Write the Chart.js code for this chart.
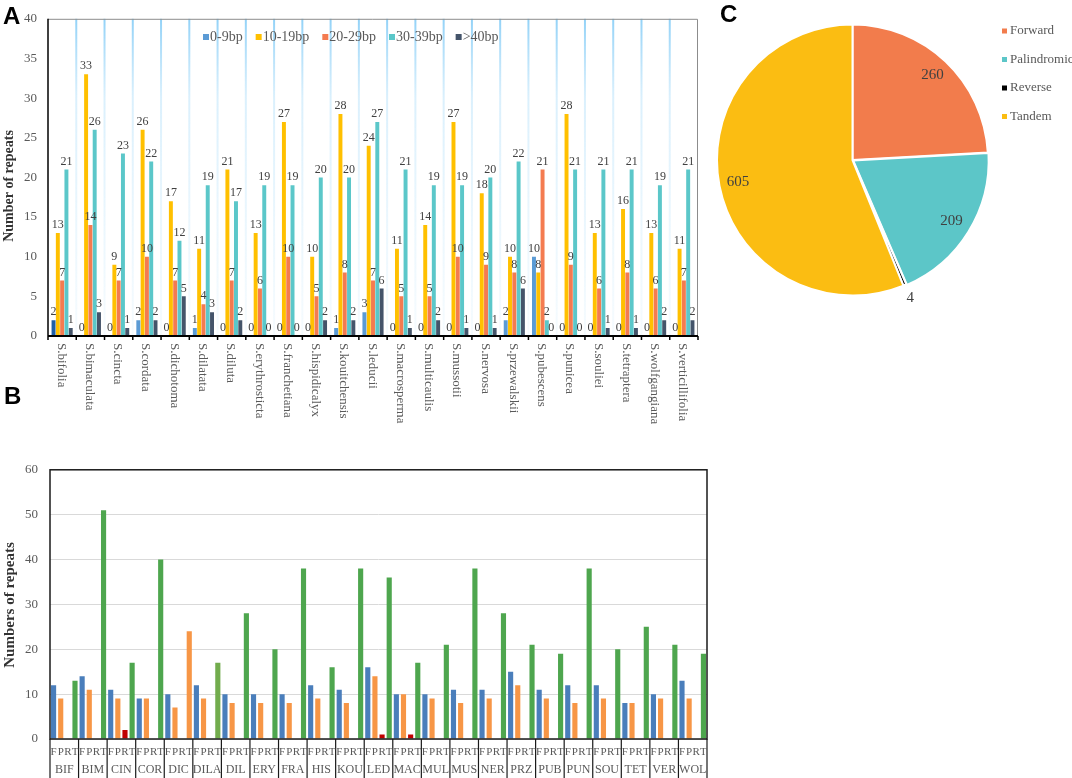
<!DOCTYPE html>
<html><head><meta charset="utf-8">
<script src="https://cdn.jsdelivr.net/npm/chart.js@4.4.0/dist/chart.umd.min.js"></script>
<style>
html,body{margin:0;padding:0;background:#fff;width:1072px;height:778px;overflow:hidden;position:relative;}
canvas{position:absolute;display:block;}
.lab{position:absolute;font-family:"Liberation Sans",Arial,sans-serif;font-weight:bold;font-size:24px;color:#000;line-height:1;}
</style></head><body>
<canvas id="cA" width="700" height="440" style="left:0;top:0;"></canvas>
<canvas id="cB" width="720" height="328" style="left:0;top:450px;"></canvas>
<canvas id="cC" width="372" height="330" style="left:700px;top:0;"></canvas>
<div class="lab" style="left:3px;top:4px;">A</div>
<div class="lab" style="left:4px;top:384px;">B</div>
<div class="lab" style="left:720px;top:2px;">C</div>
<script>
// ---------- Panel A data ----------
const speciesA = ["S.bifolia","S.bimaculata","S.cincta","S.cordata","S.dichotoma","S.dilatata","S.diluta","S.erythrosticta","S.franchetiana","S.hispidicalyx","S.kouitchensis","S.leducii","S.macrosperma","S.multicaulis","S.mussotii","S.nervosa","S.przewalskii","S.pubescens","S.punicea","S.souliei","S.tetraptera","S.wolfgangiana","S.verticillifolia"];
const seriesNamesA = ["0-9bp","10-19bp","20-29bp","30-39bp",">40bp"];
const len0to9   = [2,0,0,2,0,1,0,0,0,0,1,3,0,0,0,0,2,10,0,0,0,0,0];
const len10to19 = [13,33,9,26,17,11,21,13,27,10,28,24,11,14,27,18,10,8,28,13,16,13,11];
const len20to29 = [7,14,7,10,7,4,7,6,10,5,8,7,5,5,10,9,8,21,9,6,8,6,7];
const len30to39 = [21,26,23,22,12,19,17,19,19,20,20,27,21,19,19,20,22,2,21,21,21,19,21];
const len40plus = [1,3,1,2,5,3,2,0,0,2,2,6,1,2,1,1,6,0,0,1,1,2,2];
const yTicksA = [0,5,10,15,20,25,30,35,40];

// ---------- Panel B data ----------
const groupsB = ["BIF","BIM","CIN","COR","DIC","DILA","DIL","ERY","FRA","HIS","KOU","LED","MAC","MUL","MUS","NER","PRZ","PUB","PUN","SOU","TET","VER","WOL"];
const typeLettersB = ["F","P","R","T"];
const forwardB     = [12,14,11,9,10,12,10,10,10,12,11,16,10,10,11,11,15,11,12,12,8,10,13];
const palindromicB = [9,11,9,9,7,9,8,8,8,9,8,14,10,9,8,9,12,9,8,9,8,9,9];
const reverseB     = [0,0,2,0,0,0,0,0,0,0,0,1,1,0,0,0,0,0,0,0,0,0,0];
const tandemB      = [13,51,17,40,24,17,28,20,38,16,38,36,17,21,38,28,21,19,38,20,25,21,19];
const yTicksB = [0,10,20,30,40,50,60];

// ---------- Panel C data ----------
const repeatTypesC = ["Forward","Palindromic","Reverse","Tandem"];
const repeatCountsC = [260,209,4,605];

const serif = '"Liberation Serif","Times New Roman",serif';
const gray = '#595959';

// ================= PANEL A =================
const colA = ['#5B9BD5','#FFC000','#F47B50','#5BC7C9','#44546A'];
const blueA = len0to9.map((v,i)=> i===0 ? '#1F5FA6' : '#5B9BD5');

const plugA = {
  id:'plugA',
  beforeDatasetsDraw(chart){
    const {ctx, chartArea:ca, scales:{x}} = chart;
    const n = chart.data.labels.length;
    ctx.save();
    for(let k=1;k<n;k++){
      const bx = (x.getPixelForValue(k-1)+x.getPixelForValue(k))/2;
      const g = ctx.createLinearGradient(0,ca.top,0,ca.bottom);
      g.addColorStop(0,'rgba(110,195,245,0.75)');
      g.addColorStop(0.25,'rgba(150,212,248,0.35)');
      g.addColorStop(1,'rgba(190,228,250,0.15)');
      ctx.fillStyle = g;
      ctx.fillRect(bx-1, ca.top, 2, ca.bottom-ca.top);
    }
    ctx.restore();
  },
  afterDatasetsDraw(chart){
    const {ctx, chartArea:ca, scales:{x}} = chart;
    ctx.save();
    // value labels
    ctx.font = '12px '+serif;
    ctx.fillStyle = '#404040';
    ctx.textAlign = 'center';
    ctx.textBaseline = 'bottom';
    chart.data.datasets.forEach((ds,i)=>{
      const meta = chart.getDatasetMeta(i);
      meta.data.forEach((bar,j)=>{ ctx.fillText(String(ds.data[j]), bar.x, bar.y-2); });
    });
    // frame
    ctx.strokeStyle = '#8c8c8c'; ctx.lineWidth = 1;
    ctx.beginPath();
    ctx.moveTo(ca.left, ca.top+0.5); ctx.lineTo(ca.right-0.5, ca.top+0.5); ctx.lineTo(ca.right-0.5, ca.bottom);
    ctx.stroke();
    ctx.strokeStyle = '#000'; ctx.lineWidth = 1.5;
    ctx.beginPath(); ctx.moveTo(ca.left, ca.top); ctx.lineTo(ca.left, ca.bottom); ctx.stroke();
    ctx.lineWidth = 2;
    ctx.beginPath(); ctx.moveTo(ca.left, ca.bottom); ctx.lineTo(ca.right, ca.bottom); ctx.stroke();
    const n = chart.data.labels.length;
    ctx.lineWidth = 1.5;
    for(let k=0;k<=n;k++){
      let bx;
      if(k===0) bx = ca.left; else if(k===n) bx = ca.right; else bx = (x.getPixelForValue(k-1)+x.getPixelForValue(k))/2;
      ctx.beginPath(); ctx.moveTo(bx, ca.bottom); ctx.lineTo(bx, ca.bottom+4); ctx.stroke();
    }
    // rotated category labels
    ctx.font = '13px '+serif;
    ctx.fillStyle = gray;
    ctx.textAlign = 'left';
    ctx.textBaseline = 'middle';
    chart.data.labels.forEach((lab,j)=>{
      ctx.save();
      ctx.translate(x.getPixelForValue(j)-1, ca.bottom+7);
      ctx.rotate(Math.PI/2);
      ctx.fillText(lab, 0, 0);
      ctx.restore();
    });
    // y title
    ctx.save();
    ctx.font = 'bold 14px '+serif;
    ctx.fillStyle = '#333';
    ctx.textAlign = 'center'; ctx.textBaseline = 'middle';
    ctx.translate(9, 186); ctx.rotate(-Math.PI/2);
    ctx.fillText('Number of repeats', 0, 0);
    ctx.restore();
    // legend inside
    ctx.font = '14px '+serif;
    ctx.textAlign = 'left'; ctx.textBaseline = 'middle';
    let lx = 203; const ly = 37;
    chart.data.datasets.forEach((ds,i)=>{
      ctx.fillStyle = colA[i];
      ctx.fillRect(lx, ly-3, 6, 6);
      ctx.fillStyle = gray;
      ctx.fillText(ds.label, lx+7, ly);
      lx += 7 + ctx.measureText(ds.label).width + 13;
    });
    ctx.restore();
  }
};

new Chart(document.getElementById('cA'), {
  type:'bar',
  data:{
    labels: speciesA,
    datasets:[
      {label:seriesNamesA[0], data:len0to9,   backgroundColor:blueA},
      {label:seriesNamesA[1], data:len10to19, backgroundColor:colA[1]},
      {label:seriesNamesA[2], data:len20to29, backgroundColor:colA[2]},
      {label:seriesNamesA[3], data:len30to39, backgroundColor:colA[3]},
      {label:seriesNamesA[4], data:len40plus, backgroundColor:colA[4]}
    ]
  },
  options:{
    responsive:false, animation:false,
    layout:{padding:{left:0,top:17,right:2,bottom:0}},
    datasets:{bar:{categoryPercentage:0.76, barPercentage:0.92}},
    plugins:{legend:{display:false}, tooltip:{enabled:false}},
    scales:{
      x:{grid:{display:false,drawTicks:false}, border:{display:false}, ticks:{display:false},
         afterFit(s){ s.height = 104; }},
      y:{min:0, max:40, grid:{display:false,drawTicks:false}, border:{display:false},
         afterBuildTicks(s){ s.ticks = yTicksA.map(v=>({value:v})); },
         ticks:{padding:11, color:gray, font:{family:serif, size:13}},
         afterFit(s){ s.width = 48; }}
    }
  },
  plugins:[plugA]
});

// ================= PANEL B =================
const tandemColors = tandemB.map((v,i)=> i===4 ? '#F79646' : (i===5 ? '#72AC4D' : '#4EA64E'));
const plugB = {
  id:'plugB',
  afterDraw(chart){
    const {ctx, chartArea:ca, scales:{x}} = chart;
    const H = chart.height;
    ctx.save();
    ctx.strokeStyle = '#1a1a1a'; ctx.lineWidth = 1.5;
    ctx.strokeRect(ca.left, ca.top, ca.right-ca.left, ca.bottom-ca.top);
    const n = chart.data.labels.length;
    ctx.lineWidth = 1.2;
    for(let k=0;k<=n;k++){
      let bx;
      if(k===0) bx = ca.left; else if(k===n) bx = ca.right; else bx = (x.getPixelForValue(k-1)+x.getPixelForValue(k))/2;
      ctx.beginPath(); ctx.moveTo(bx, ca.bottom); ctx.lineTo(bx, H); ctx.stroke();
    }
    // type letters
    ctx.font = '11px '+serif;
    ctx.fillStyle = gray;
    ctx.textAlign = 'center'; ctx.textBaseline = 'middle';
    chart.data.datasets.forEach((ds,i)=>{
      const meta = chart.getDatasetMeta(i);
      meta.data.forEach(bar=>{ ctx.fillText(typeLettersB[i], bar.x, ca.bottom+13); });
    });
    // group names
    ctx.font = '12px '+serif;
    chart.data.labels.forEach((lab,j)=>{ ctx.fillText(lab, x.getPixelForValue(j), ca.bottom+31); });
    // y title
    ctx.save();
    ctx.font = 'bold 15px '+serif;
    ctx.fillStyle = '#333';
    ctx.translate(10, 155); ctx.rotate(-Math.PI/2);
    ctx.fillText('Numbers of repeats', 0, 0);
    ctx.restore();
    ctx.restore();
  }
};

new Chart(document.getElementById('cB'), {
  type:'bar',
  data:{
    labels: groupsB,
    datasets:[
      {label:'F', data:forwardB, backgroundColor:'#4A7EBB'},
      {label:'P', data:palindromicB, backgroundColor:'#F79646'},
      {label:'R', data:reverseB, backgroundColor:'#C00000'},
      {label:'T', data:tandemB, backgroundColor:tandemColors}
    ]
  },
  options:{
    responsive:false, animation:false,
    layout:{padding:{left:0,top:12,right:13,bottom:0}},
    datasets:{bar:{categoryPercentage:1.0, barPercentage:0.72}},
    plugins:{legend:{display:false}, tooltip:{enabled:false}},
    scales:{
      x:{grid:{display:false,drawTicks:false}, border:{display:false}, ticks:{display:false},
         afterFit(s){ s.height = 39; }},
      y:{min:0, max:60, grid:{color:'#D9D9D9', lineWidth:1, drawTicks:false}, border:{display:false},
         afterBuildTicks(s){ s.ticks = yTicksB.map(v=>({value:v})); },
         ticks:{padding:12, color:gray, font:{family:serif, size:13}},
         afterFit(s){ s.width = 50; }}
    }
  },
  plugins:[plugB]
});

// ================= PANEL C =================
const colC = ['#F27C4C','#5CC6C8','#000000','#FBBD12'];
const plugC = {
  id:'plugC',
  afterDatasetsDraw(chart){
    const {ctx} = chart;
    const meta = chart.getDatasetMeta(0);
    const ds = chart.data.datasets[0];
    const total = ds.data.reduce((a,b)=>a+b,0);
    ctx.save();
    ctx.font = '15px '+serif;
    ctx.fillStyle = '#404040';
    ctx.textAlign = 'center'; ctx.textBaseline = 'middle';
    meta.data.forEach((arc,i)=>{
      const p = arc.getProps(['x','y','startAngle','endAngle','outerRadius']);
      const mid = (p.startAngle+p.endAngle)/2;
      const frac = ds.data[i]/total;
      const r = frac < 0.02 ? p.outerRadius+14 : p.outerRadius*0.86;
      ctx.fillText(String(ds.data[i]), p.x + Math.cos(mid)*r, p.y + Math.sin(mid)*r);
    });
    // legend
    ctx.font = '13px '+serif;
    ctx.textAlign = 'left';
    chart.data.labels.forEach((lab,i)=>{
      const yy = 31 + i*28.5;
      ctx.fillStyle = colC[i];
      ctx.fillRect(302, yy-2.5, 5, 5);
      ctx.fillStyle = gray;
      ctx.fillText(lab, 310, yy);
    });
    ctx.restore();
  }
};

new Chart(document.getElementById('cC'), {
  type:'pie',
  data:{
    labels: repeatTypesC,
    datasets:[{data:repeatCountsC, backgroundColor:colC, borderColor:'#ffffff', borderWidth:2, offset:[0,3,0,0]}]
  },
  options:{
    responsive:false, animation:false,
    layout:{padding:{left:14,top:22,right:81,bottom:32}},
    plugins:{legend:{display:false}, tooltip:{enabled:false}}
  },
  plugins:[plugC]
});
</script>
</body></html>
